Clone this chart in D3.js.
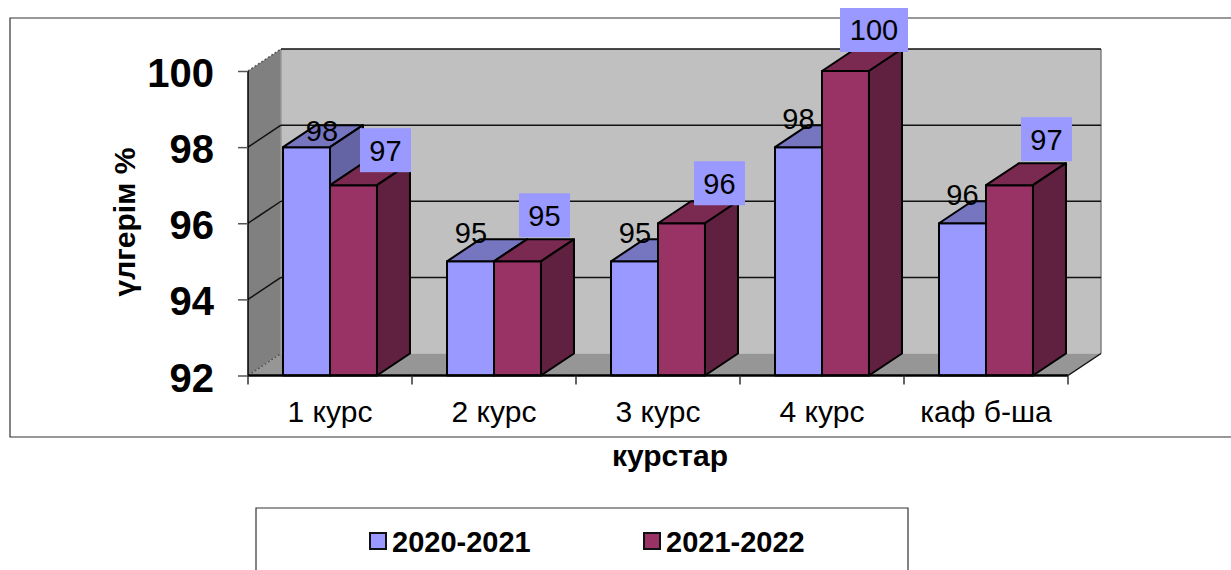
<!DOCTYPE html>
<html>
<head>
<meta charset="utf-8">
<script src="https://cdn.jsdelivr.net/npm/d3@7"></script>
<style>
  html, body { margin: 0; padding: 0; background: #fff; }
  svg { display: block; font-family: "Liberation Sans", Arial, sans-serif; }
</style>
</head>
<body>
<figure id="chart" style="margin:0"></figure>
<script>
const categories = ['1 курс', '2 курс', '3 курс', '4 курс', 'каф б-ша'];
const seriesNames = ['2020-2021', '2021-2022'];
const values2020 = [98, 95, 95, 98, 96];
const values2021 = [97, 95, 96, 100, 97];
const yTicks = [92, 94, 96, 98, 100];

const width = 1231;
const height = 570;
const depthX = 33;
const depthY = -22;

const colors = [
  { front: '#9999ff', top: '#7676c0', side: '#6464a4' },
  { front: '#993366', top: '#7a2950', side: '#60203f' }
];

// labels were moved by hand in the original, so each has its own offset from the bar's top centre
const labelOffsets = [
  [[15.5, -17], [0.5, -29], [0.5, -29], [0, -29], [0, -29]],
  [[32, -35], [27, -46], [38, -40], [28.5, -41], [37, -46]]
];
const labelBoxWidth = { 2: 51, 3: 68 };

const svg = d3.select('#chart').append('svg')
  .attr('width', width)
  .attr('height', height);

const x = d3.scaleBand()
  .domain(categories)
  .range([248, 1068])
  .paddingInner(0.427)
  .paddingOuter(0.2135);

const xInner = d3.scaleBand()
  .domain([0, 1])
  .range([0, x.bandwidth()]);

const y = d3.scaleLinear()
  .domain([92, 100])
  .range([375.5, 71]);

const poly = pts => pts.map(p => p.join(',')).join(' ');

// outer frame, the right edge runs off the picture
svg.append('path')
  .attr('d', `M${width},18 H10 V437 H${width}`)
  .attr('fill', 'none')
  .attr('stroke', '#333')
  .attr('stroke-width', 1.2);

const [x0, x1] = x.range();
const yBase = y(92);
const yTop = y(100);

// walls and floor
svg.append('polygon')
  .attr('points', poly([[x0 + depthX, yTop + depthY], [x1 + depthX, yTop + depthY], [x1 + depthX, yBase + depthY], [x0 + depthX, yBase + depthY]]))
  .attr('fill', '#c0c0c0');
svg.append('polygon')
  .attr('points', poly([[x0, yTop], [x0 + depthX, yTop + depthY], [x0 + depthX, yBase + depthY], [x0, yBase]]))
  .attr('fill', '#808080');
svg.append('polygon')
  .attr('points', poly([[x0, yBase], [x0 + depthX, yBase + depthY], [x1 + depthX, yBase + depthY], [x1, yBase]]))
  .attr('fill', '#969696');
svg.append('line')
  .attr('x1', x1 + depthX).attr('y1', yBase + depthY)
  .attr('x2', x1 + depthX).attr('y2', yTop + depthY)
  .attr('stroke', '#808080')
  .attr('stroke-width', 1.5);
svg.append('line')
  .attr('x1', x0 + depthX).attr('y1', yBase + depthY)
  .attr('x2', x0 + depthX).attr('y2', yTop + depthY)
  .attr('stroke', '#999')
  .attr('stroke-width', 1.5);
svg.append('line')
  .attr('x1', x1).attr('y1', yBase)
  .attr('x2', x1 + depthX).attr('y2', yBase + depthY)
  .attr('stroke', '#111')
  .attr('stroke-width', 1.5);

// grid on back and left wall
svg.selectAll('.grid-back')
  .data(yTicks.filter(d => d > 92))
  .join('line')
  .attr('class', 'grid-back')
  .attr('x1', x0 + depthX).attr('x2', x1 + depthX)
  .attr('y1', d => y(d) + depthY).attr('y2', d => y(d) + depthY)
  .attr('stroke', '#111')
  .attr('stroke-width', 1.5);
svg.selectAll('.grid-side')
  .data(yTicks)
  .join('line')
  .attr('class', 'grid-side')
  .attr('x1', x0).attr('x2', x0 + depthX)
  .attr('y1', d => y(d)).attr('y2', d => y(d) + depthY)
  .attr('stroke', d => (d === 92 || d === 100) ? '#555' : '#111')
  .attr('stroke-dasharray', d => (d === 92 || d === 100) ? '2,2' : null)
  .attr('stroke-width', 1.5);

// y axis
svg.append('g')
  .attr('transform', `translate(${x0},0)`)
  .call(d3.axisLeft(y).tickValues(yTicks).tickSize(10).tickPadding(24))
  .call(g => g.select('.domain').attr('d', `M0,${yTop}V${yBase}`).attr('stroke', '#000').attr('stroke-width', 1.5))
  .call(g => g.selectAll('.tick line').attr('stroke', '#555').attr('stroke-width', 1.5))
  .call(g => g.selectAll('.tick text')
    .attr('fill', '#000')
    .attr('dy', '0.39em')
    .style('font-family', '"Liberation Sans", Arial, sans-serif')
    .style('font-size', '40px')
    .style('font-weight', 'bold'));

// bars, series by series within each course
const seriesValues = [values2020, values2021];
categories.forEach((c, i) => {
  seriesValues.forEach((vals, s) => {
    const bx = x(c) + xInner(s);
    const bw = xInner.bandwidth();
    const by = y(vals[i]);
    const g = svg.append('g').attr('stroke', '#000').attr('stroke-width', 2).attr('stroke-linejoin', 'round');
    g.append('rect').attr('x', bx).attr('y', by).attr('width', bw).attr('height', yBase - by).attr('fill', colors[s].front);
    g.append('polygon')
      .attr('points', poly([[bx, by], [bx + depthX, by + depthY], [bx + bw + depthX, by + depthY], [bx + bw, by]]))
      .attr('fill', colors[s].top);
    g.append('polygon')
      .attr('points', poly([[bx + bw, by], [bx + bw + depthX, by + depthY], [bx + bw + depthX, yBase + depthY], [bx + bw, yBase]]))
      .attr('fill', colors[s].side);
  });
});

// x axis, labels from the band scale and ticks on the band edges
svg.append('g')
  .attr('transform', `translate(0,${yBase})`)
  .call(d3.axisBottom(x).tickSize(0).tickPadding(25))
  .call(g => g.select('.domain').attr('d', `M${x0},0H${x1}`).attr('stroke', '#000').attr('stroke-width', 2.5))
  .call(g => g.selectAll('.tick text')
    .attr('fill', '#000')
    .style('font-family', '"Liberation Sans", Arial, sans-serif')
    .style('font-size', '30px'));
svg.selectAll('.band-tick')
  .data(d3.range(categories.length + 1))
  .join('line')
  .attr('class', 'band-tick')
  .attr('x1', d => x0 + d * x.step()).attr('x2', d => x0 + d * x.step())
  .attr('y1', yBase).attr('y2', yBase + 9)
  .attr('stroke', '#333')
  .attr('stroke-width', 1.5);

// data labels
seriesValues.forEach((vals, s) => {
  vals.forEach((v, i) => {
    const cx = x(categories[i]) + xInner(s) + xInner.bandwidth() / 2 + labelOffsets[s][i][0];
    const cy = y(v) + labelOffsets[s][i][1];
    if (s === 1) {
      const w = labelBoxWidth[String(v).length];
      svg.append('rect')
        .attr('x', cx - w / 2).attr('y', cy - 22)
        .attr('width', w).attr('height', 44)
        .attr('fill', '#9999ff');
    }
    svg.append('text')
      .attr('x', cx).attr('y', cy)
      .attr('dy', '0.36em')
      .attr('text-anchor', 'middle')
      .style('font-size', '29px')
      .text(v);
  });
});

// axis titles
svg.append('text')
  .attr('x', 670).attr('y', 466)
  .attr('text-anchor', 'middle')
  .style('font-size', '30px')
  .style('font-weight', 'bold')
  .text('курстар');
svg.append('text')
  .attr('transform', 'translate(134.5,222) rotate(-90)')
  .attr('text-anchor', 'middle')
  .style('font-size', '30px')
  .style('font-weight', 'bold')
  .text('үлгерім %');

// legend, cut off by the bottom of the picture
svg.append('path')
  .attr('d', `M256,${height} V508 H908 V${height}`)
  .attr('fill', 'none')
  .attr('stroke', '#333')
  .attr('stroke-width', 1.2);
const legendX = d3.scalePoint().domain(seriesNames).range([370, 644]);
const legend = svg.selectAll('.legend-item')
  .data(seriesNames)
  .join('g')
  .attr('class', 'legend-item')
  .attr('transform', d => `translate(${legendX(d)},533)`);
legend.append('rect')
  .attr('width', 16).attr('height', 16)
  .attr('fill', (d, i) => colors[i].front)
  .attr('stroke', '#111')
  .attr('stroke-width', 2);
legend.append('text')
  .attr('x', 22).attr('y', 19)
  .style('font-size', '29px')
  .style('font-weight', 'bold')
  .text(d => d);
</script>
</body>
</html>
